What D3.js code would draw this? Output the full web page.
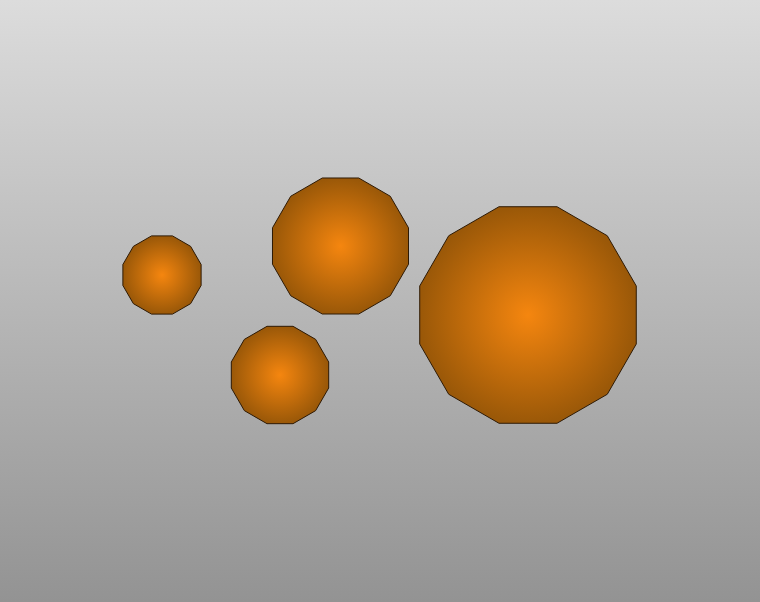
<!DOCTYPE html>
<html>
<head>
<meta charset="utf-8">
<script src="https://cdn.jsdelivr.net/npm/d3@7"></script>
<style>
html,body{margin:0;padding:0;overflow:hidden;}
svg{display:block;}
</style>
</head>
<body>
<svg id="chart" width="760" height="602"></svg>
<script>
// Data
const names = ["A", "B", "C", "D"];
const xValues = [1.62, 3.405, 2.80, 5.28];
const yValues = [3.27, 3.56, 2.27, 2.87];
const sizeValues = [40.5, 70.4, 50.4, 112.1];

const W = 760, H = 602;
const svg = d3.select("#chart");
const defs = svg.append("defs");

const bg = defs.append("linearGradient").attr("id", "bg")
  .attr("x1", 0).attr("y1", 0).attr("x2", 0).attr("y2", 1);
bg.append("stop").attr("offset", "0%").attr("stop-color", "#dcdcdc");
bg.append("stop").attr("offset", "100%").attr("stop-color", "#939393");

const rg = defs.append("radialGradient").attr("id", "orb")
  .attr("cx", "50%").attr("cy", "50%").attr("r", "50%");
rg.append("stop").attr("offset", "0%").attr("stop-color", "#f5860f");
rg.append("stop").attr("offset", "100%").attr("stop-color", "#9a5808");

svg.append("rect").attr("width", W).attr("height", H).attr("fill", "url(#bg)");

const x = d3.scaleLinear().domain([0, 7.6]).range([0, W]);
const y = d3.scaleLinear().domain([0, 6.02]).range([H, 0]);
const r = d3.scaleLinear().domain([0, 100]).range([0, 100]);

const data = names.map((n, i) => ({name: n, x: xValues[i], y: yValues[i], s: sizeValues[i]}));

function poly(cx, cy, R) {
  const pts = [];
  for (let k = 0; k < 12; k++) {
    const a = (15 + 30 * k) * Math.PI / 180;
    pts.push([cx + R * Math.cos(a), cy + R * Math.sin(a)]);
  }
  return "M" + pts.map(p => p.join(",")).join("L") + "Z";
}

svg.append("g").selectAll("path").data(data).join("path")
  .attr("d", d => poly(x(d.x), y(d.y), r(d.s)))
  .attr("fill", "url(#orb)")
  .attr("stroke", "#2e1a05")
  .attr("stroke-width", 1);
</script>
</body>
</html>
